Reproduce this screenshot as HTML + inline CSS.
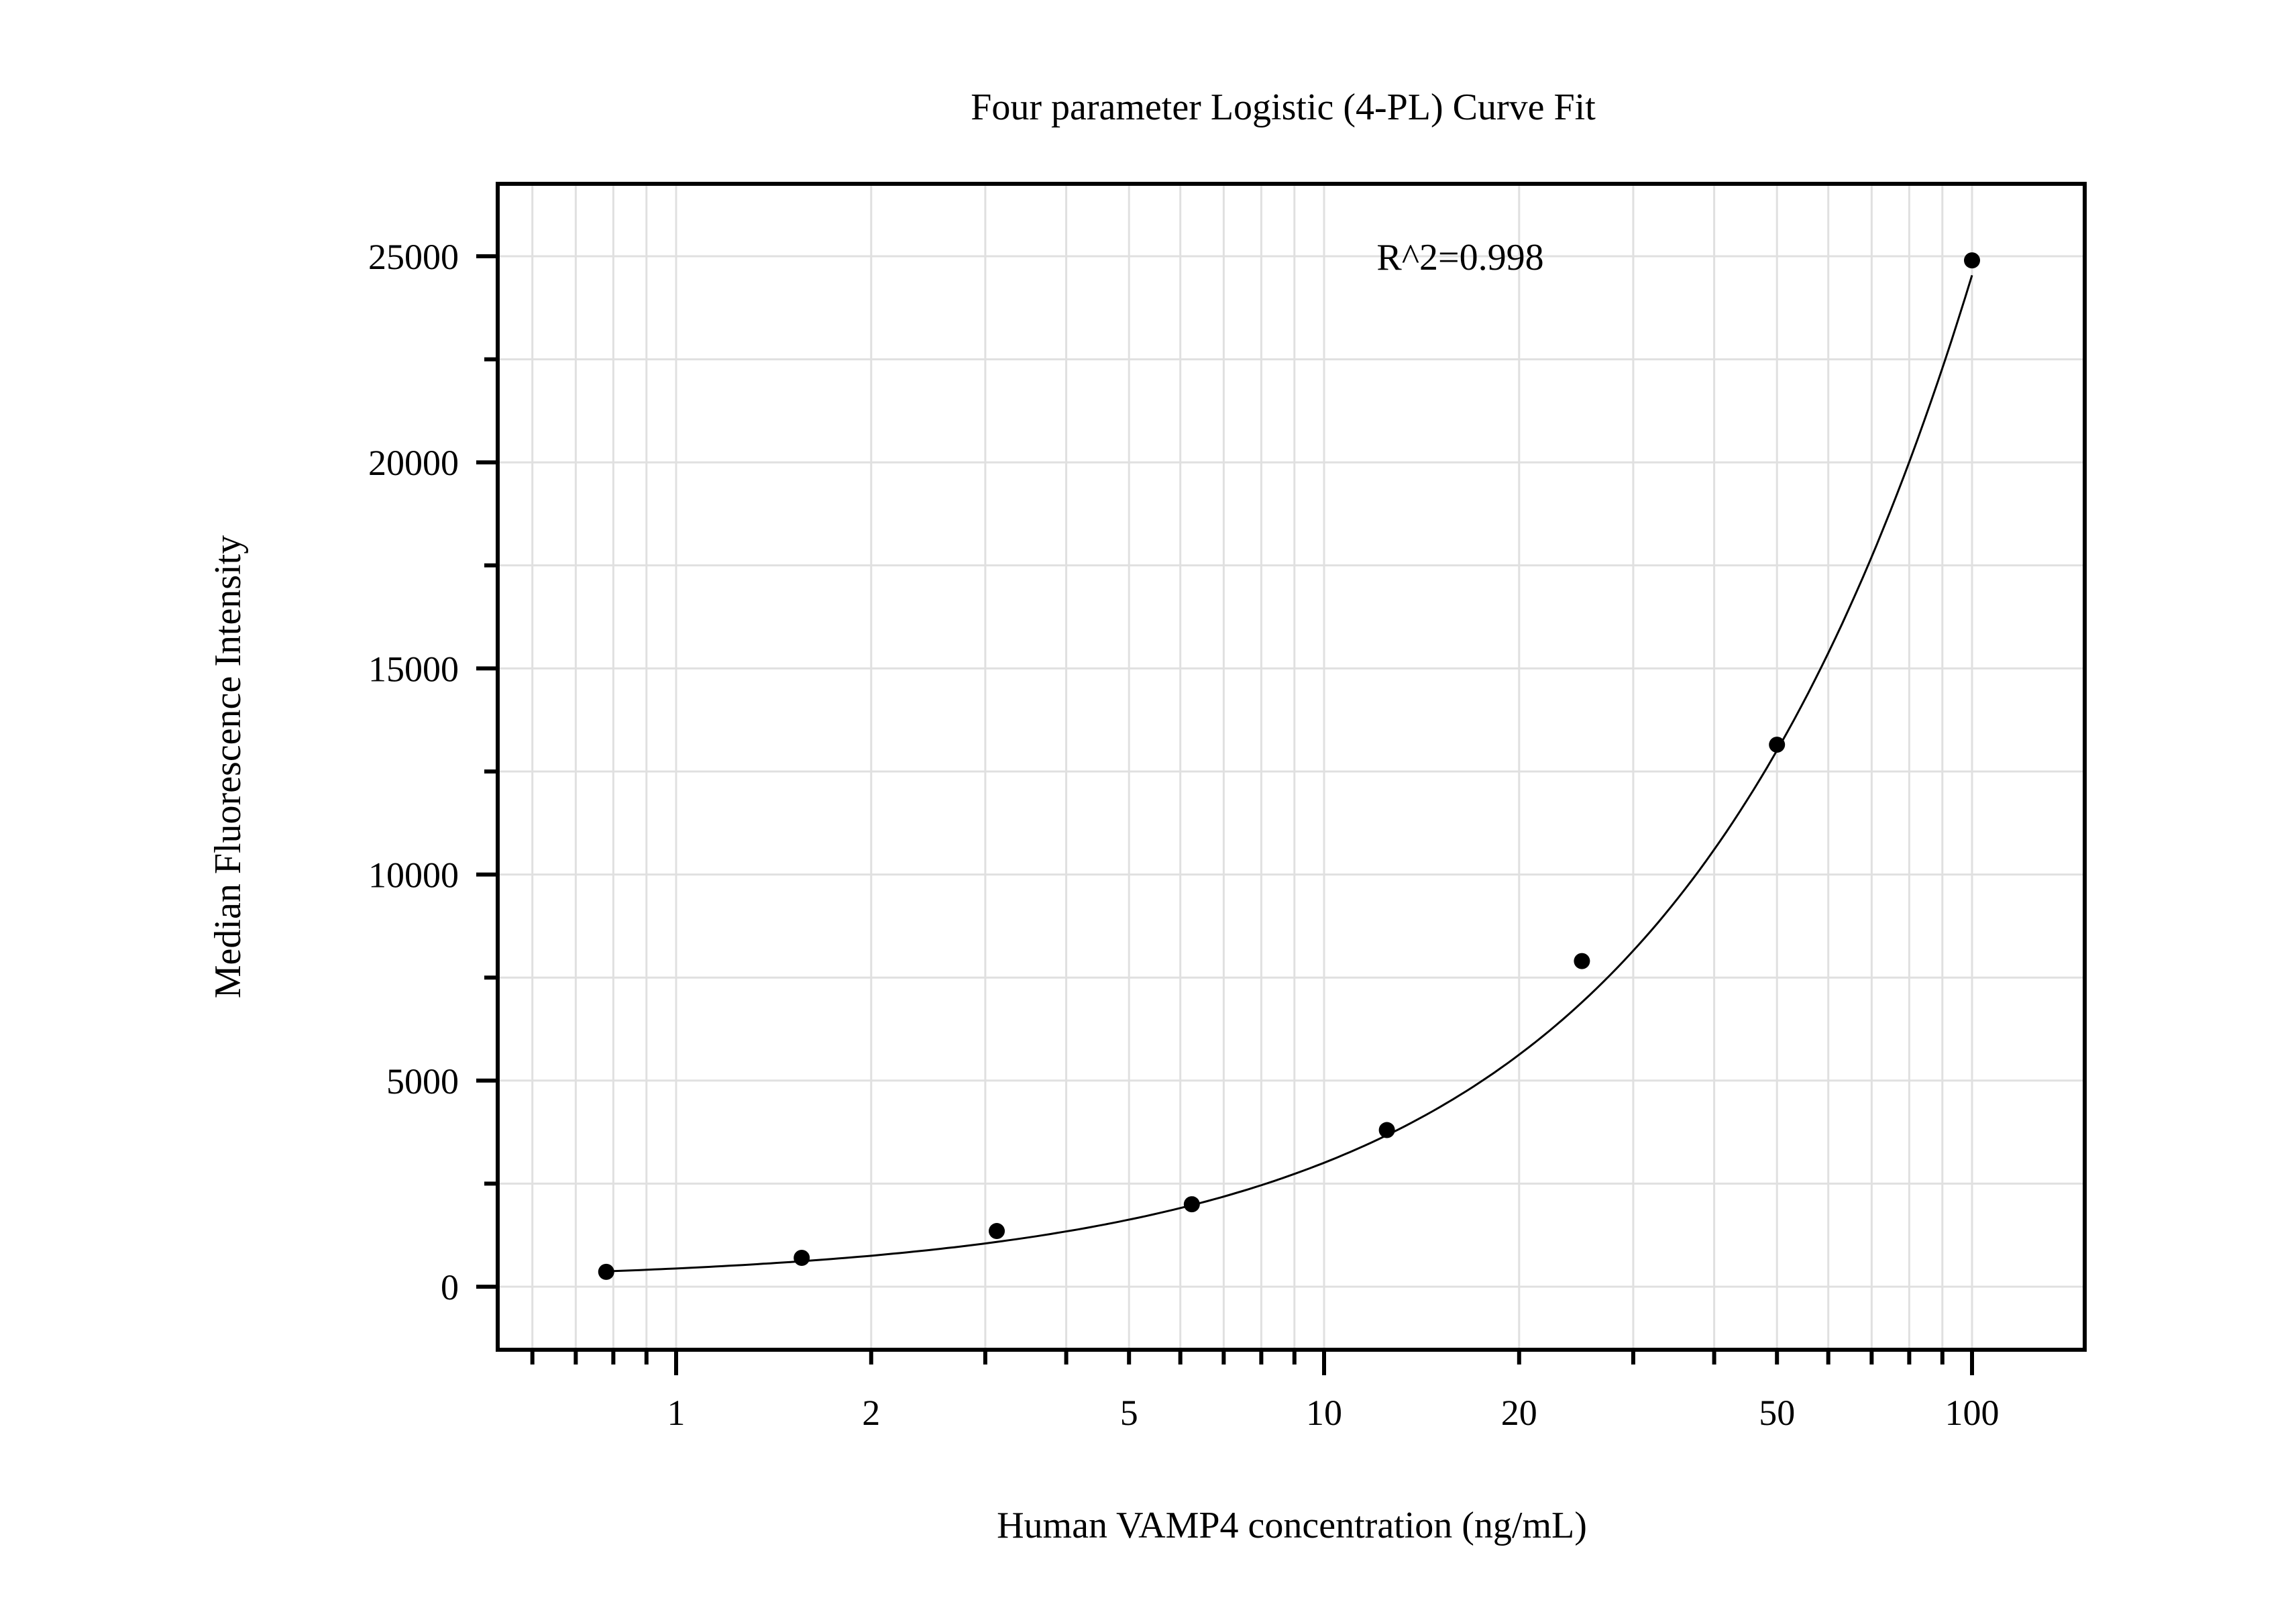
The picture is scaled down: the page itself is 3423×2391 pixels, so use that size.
<!DOCTYPE html>
<html><head><meta charset="utf-8"><style>body{margin:0;background:#fff}svg{display:block}text{font-family:"Liberation Serif",serif;fill:#000}</style></head>
<body>
<svg id="chart" width="3423" height="2391" viewBox="0 0 3423 2391" xmlns="http://www.w3.org/2000/svg">
<g id="grid"></g>
<g id="curve"></g>
<g id="points"></g>
<rect x="742" y="274" width="2366" height="1738" fill="none" stroke="#000" stroke-width="6"/>
<g id="ticks"></g>
<text x="1913" y="178" font-size="56" text-anchor="middle">Four parameter Logistic (4-PL) Curve Fit</text>
<text x="2177" y="402" font-size="56" text-anchor="middle">R^2=0.998</text>
<text transform="translate(358,1143) rotate(-90)" font-size="56" text-anchor="middle">Median Fluorescence Intensity</text>
<text x="1926" y="2292" font-size="56" text-anchor="middle">Human VAMP4 concentration (ng/mL)</text>
</svg>
<script>
const conc = [0.78, 1.5625, 3.125, 6.25, 12.5, 25, 50, 100];
const mfi = [360, 700, 1350, 2000, 3800, 7900, 13150, 24900];
const fitA = 100, fitB = 0.93, fitC = 10000, fitD = 1795000;
const xTickLabels = ["1", "2", "5", "10", "20", "50", "100"];
const xTickValues = [1, 2, 5, 10, 20, 50, 100];
const yTickValues = [0, 5000, 10000, 15000, 20000, 25000];

const NS = "http://www.w3.org/2000/svg";
const X0 = 1008, DEC = 966;
const xs = v => X0 + Math.log10(v) * DEC;
const ys = v => 1918 - v * (1536 / 25000);
const L = 742, R = 3108, T = 274, B = 2012;
function mk(tag, attrs, parent) { const e = document.createElementNS(NS, tag); for (const k in attrs) e.setAttribute(k, attrs[k]); parent.appendChild(e); return e; }
const grid = document.getElementById('grid'), ticks = document.getElementById('ticks');
// x minor/major
for (let d = -1; d <= 2; d++) for (let m = 1; m <= 9; m++) {
  const v = m * Math.pow(10, d), x = xs(v);
  if (x <= L + 2 || x >= R - 2) continue;
  const g = mk('line', {x1: x, x2: x, y1: T, y2: B, stroke: '#e0e0e0', 'stroke-width': 3}, grid);
  
  
  const major = m === 1;
  const t = mk('line', {x1: x, x2: x, y1: B, y2: B + (major ? 38 : 22), stroke: '#000', 'stroke-width': 6}, ticks);
  
  
}
xTickValues.forEach((v, i) => {
  const t = mk('text', {x: xs(v), y: B + 112, 'font-size': 54, 'text-anchor': 'middle'}, ticks);
  t.textContent = xTickLabels[i];
  
  
});
for (let v = 0; v <= 25000; v += 2500) {
  const y = ys(v);
  const g = mk('line', {x1: L, x2: R, y1: y, y2: y, stroke: '#e0e0e0', 'stroke-width': 3}, grid);
  
  
  const major = v % 5000 === 0;
  const t = mk('line', {x1: L - (major ? 32 : 20), x2: L, y1: y, y2: y, stroke: '#000', 'stroke-width': 6}, ticks);
  
  
}
yTickValues.forEach(v => {
  const t = mk('text', {x: 684, y: ys(v) + 19, 'font-size': 54, 'text-anchor': 'end'}, ticks);
  t.textContent = String(v);
  
  
});
// curve
const f = x => fitD + (fitA - fitD) / (1 + Math.pow(x / fitC, fitB));
let d = '';
const lo = Math.log10(conc[0]), hi = Math.log10(conc[conc.length - 1]);
for (let i = 0; i <= 200; i++) { const lx = lo + (hi - lo) * i / 200, x = Math.pow(10, lx); d += (i ? 'L' : 'M') + xs(x).toFixed(1) + ',' + ys(f(x)).toFixed(1); }
const c = mk('path', {d: d, fill: 'none', stroke: '#000', 'stroke-width': 3}, document.getElementById('curve'));


const pts = document.getElementById('points');
conc.forEach((v, i) => {
  const p = mk('circle', {cx: xs(v), cy: ys(mfi[i]), r: 12, fill: '#000'}, pts);
  
  
});
</script>
</body></html>
